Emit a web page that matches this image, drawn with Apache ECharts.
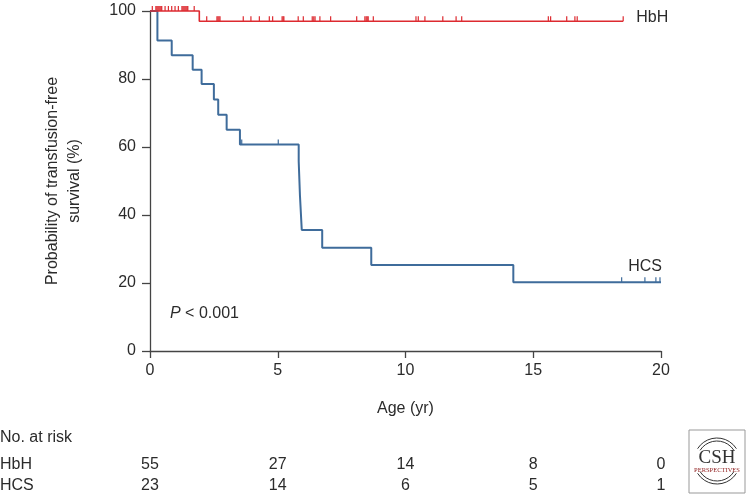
<!DOCTYPE html>
<html>
<head>
<meta charset="utf-8">
<script src="https://cdn.jsdelivr.net/npm/echarts@6/dist/echarts.min.js"></script>
<style>html,body{margin:0;padding:0;background:#fff}#c{width:755px;height:495px}</style>
</head>
<body>
<div id="c"></div>
<script>
// ---- data ----
const xTicks = [0, 5, 10, 15, 20];
const yTicks = [0, 20, 40, 60, 80, 100];

const hbhTimes = [0, 1.93, 18.52];
const hbhSurv  = [100, 97, 97];
const hbhCensorTop = [0.09, 0.23, 0.27, 0.31, 0.35, 0.39, 0.43, 0.46, 0.59, 0.72, 0.85, 0.98, 1.11, 1.25, 1.29, 1.33, 1.37, 1.41, 1.45, 1.48, 1.73];
const hbhCensorLow = [2.22, 2.62, 2.66, 2.70, 2.74, 3.65, 3.95, 4.28, 4.67, 4.80, 5.17, 5.21, 5.24, 5.80, 6.0, 6.35, 6.41, 6.46, 6.65, 7.07, 8.09, 8.41, 8.46, 8.50, 8.54, 8.74, 10.41, 10.5, 10.76, 11.46, 11.98, 12.2, 15.59, 15.68, 16.31, 16.63, 16.72, 18.52];

const hcsTimes = [0, 0.29, 0.85, 1.67, 2.02, 2.5, 2.67, 3.0, 3.52, 5.82, 5.87, 5.94, 6.74, 8.66, 14.22, 20];
const hcsSurv  = [100, 91.3, 87.0, 82.7, 78.5, 74.0, 69.5, 65.1, 60.7, 55.8, 45.6, 35.6, 30.4, 25.3, 20.2, 20.2];
const hcsCensorTimes = [3.59, 5.02, 18.46, 19.37, 19.8, 19.96];
const hcsCensorSurv  = [60.7, 60.7, 20.2, 20.2, 20.2, 20.2];

const riskLabels = ['HbH', 'HCS'];
const atRiskHbH = [55, 27, 14, 8, 0];
const atRiskHCS = [23, 14, 6, 5, 1];

// ---- styles ----
const RED = '#dd2a30';
const BLUE = '#3f6c9b';
const TXT = '#2b2b2b';
const AX = '#444';
const FONT = '"Liberation Sans", Arial, sans-serif';

const zip = (a, b) => a.map((v, i) => [v, b[i]]);
const censorRender = (color, h) => function (params, api) {
  const p = api.coord([api.value(0), api.value(1)]);
  return {type: 'line', shape: {x1: p[0], y1: p[1], x2: p[0], y2: p[1] - h},
          style: {stroke: color, lineWidth: 1.2}};
};

const chart = echarts.init(document.getElementById('c'));
chart.setOption({
  animation: false,
  backgroundColor: '#fff',
  textStyle: {fontFamily: FONT},
  grid: {left: 150, right: 94, top: 11, bottom: 144, outerBoundsMode: 'none', containLabel: false},
  xAxis: {
    type: 'value', min: 0, max: 20, interval: 5,
    name: 'Age (yr)', nameLocation: 'middle', nameGap: 50,
    nameTextStyle: {fontSize: 16, color: TXT, fontFamily: FONT},
    axisLine: {show: true, onZero: false, lineStyle: {color: AX, width: 1.3}},
    axisTick: {show: true, length: 7, lineStyle: {color: AX, width: 1.3}},
    axisLabel: {fontSize: 16, color: TXT, margin: 12, fontFamily: FONT},
    splitLine: {show: false}
  },
  yAxis: {
    type: 'value', min: 0, max: 100, interval: 20,
    name: 'Probability of transfusion-free\nsurvival (%)', nameLocation: 'middle', nameGap: 64, nameRotate: 90,
    nameTextStyle: {fontSize: 16, color: TXT, lineHeight: 22, fontFamily: FONT},
    axisLine: {show: true, onZero: false, lineStyle: {color: AX, width: 1.3}},
    axisTick: {show: true, length: 8, lineStyle: {color: AX, width: 1.3}},
    axisLabel: {fontSize: 16, color: TXT, margin: 14, fontFamily: FONT},
    splitLine: {show: false}
  },
  series: [
    {type: 'line', name: 'HCS', step: 'end', data: zip(hcsTimes, hcsSurv), symbol: 'none',
     lineStyle: {color: BLUE, width: 2}, clip: false},
    {type: 'custom', name: 'HCS censor', data: zip(hcsCensorTimes, hcsCensorSurv),
     renderItem: censorRender(BLUE, 5), clip: false},
    {type: 'line', name: 'HbH', step: 'end', data: zip(hbhTimes, hbhSurv), symbol: 'none',
     lineStyle: {color: RED, width: 1.6}, clip: false},
    {type: 'custom', name: 'HbH censor', data: zip(hbhCensorTop, hbhCensorTop.map(() => hbhSurv[0])).concat(zip(hbhCensorLow, hbhCensorLow.map(() => hbhSurv[1]))),
     renderItem: censorRender(RED, 5), clip: false}
  ]
});

// ---- text annotations & at-risk table (positions from the chart's scales) ----
const px = (x, y) => chart.convertToPixel({gridIndex: 0}, [x, y]);
const g = [];
const hbhEnd = px(hbhTimes[hbhTimes.length - 1], hbhSurv[hbhSurv.length - 1]);
g.push({type: 'text', x: hbhEnd[0] + 13, y: hbhEnd[1] - 4, style: {text: 'HbH', fontSize: 16, fill: TXT, font: '16px ' + FONT, verticalAlign: 'middle'}});
const hcsEnd = px(hcsTimes[hcsTimes.length - 1], hcsSurv[hcsSurv.length - 1]);
g.push({type: 'text', x: hcsEnd[0] + 1, y: hcsEnd[1] - 16, style: {text: 'HCS', font: '16px ' + FONT, fill: TXT, align: 'right', verticalAlign: 'middle'}});
g.push({type: 'text', x: 170, y: 314, style: {text: '{i|P}{n| < 0.001}', rich: {i: {font: 'italic 16px ' + FONT, fill: TXT}, n: {font: '16px ' + FONT, fill: TXT}}, verticalAlign: 'middle'}});

g.push({type: 'text', x: 0, y: 438, style: {text: 'No. at risk', font: '16px ' + FONT, fill: TXT, verticalAlign: 'middle'}});
const rows = [atRiskHbH, atRiskHCS];
const rowY = [465, 486];
rows.forEach((row, r) => {
  g.push({type: 'text', x: 0, y: rowY[r], style: {text: riskLabels[r], font: '16px ' + FONT, fill: TXT, verticalAlign: 'middle'}});
  row.forEach((v, i) => {
    const p = px(xTicks[i], 0);
    g.push({type: 'text', x: p[0], y: rowY[r], style: {text: String(v), font: '16px ' + FONT, fill: TXT, align: 'center', verticalAlign: 'middle'}});
  });
});

// logo
const LX = 689, LY = 430, LW = 56, LH = 63, LC = LX + LW / 2;
g.push({type: 'rect', shape: {x: LX, y: LY, width: LW, height: LH}, style: {fill: '#fff', stroke: '#999', lineWidth: 1}});
[[LY + 31, 20], [LY + 31, 23]].forEach(([cy, r]) => {
  g.push({type: 'arc', shape: {cx: LC, cy: cy, r: r, startAngle: Math.PI * 1.18, endAngle: Math.PI * 1.82}, style: {stroke: '#333', fill: null, lineWidth: 1}});
  g.push({type: 'arc', shape: {cx: LC, cy: cy, r: r, startAngle: Math.PI * 0.18, endAngle: Math.PI * 0.82}, style: {stroke: '#333', fill: null, lineWidth: 1}});
});
g.push({type: 'text', x: LC, y: LY + 28, style: {text: 'CSH', font: '19px "Liberation Serif", serif', fill: '#333', align: 'center', verticalAlign: 'middle'}});
g.push({type: 'text', x: LC, y: LY + 40, style: {text: 'PERSPECTIVES', font: '6.5px "Liberation Serif", serif', fill: '#8e1b1b', align: 'center', verticalAlign: 'middle'}});

chart.setOption({graphic: {elements: g}});
</script>
</body>
</html>
